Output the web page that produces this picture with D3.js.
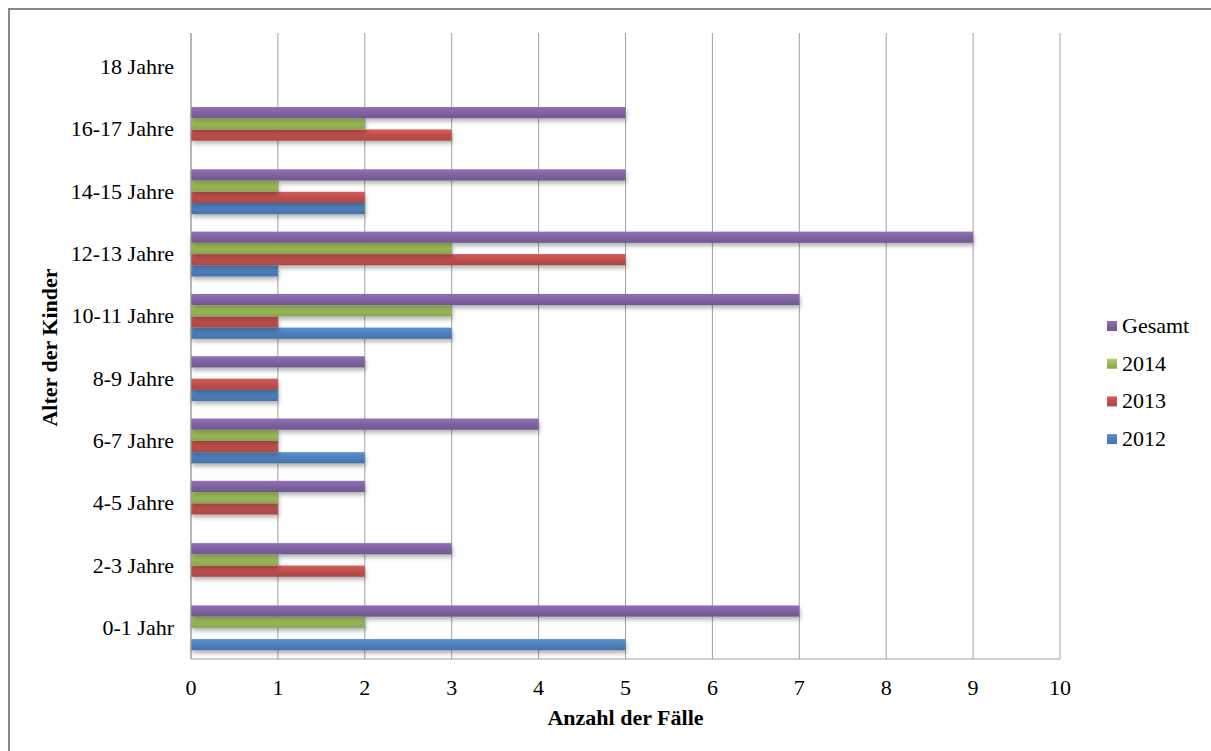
<html>
  <head>
    <meta charset="utf-8">
    <script src="https://d3js.org/d3.v7.min.js"></script>
    <style>
      body { margin: 0; background: #fff; font-family: "Liberation Serif", "Times New Roman", serif; }
      svg text { fill: #000; }
    </style>
  </head>
  <body>
    <div id="chart"></div>
  </body>
  <script>
    // categories bottom -> top
    const categories = ["0-1 Jahr", "2-3 Jahre", "4-5 Jahre", "6-7 Jahre", "8-9 Jahre",
                        "10-11 Jahre", "12-13 Jahre", "14-15 Jahre", "16-17 Jahre", "18 Jahre"]
    const series = ["2012", "2013", "2014", "Gesamt"]
    const v2012   = [5, 0, 0, 2, 1, 3, 1, 2, 0, 0]
    const v2013   = [0, 2, 1, 1, 1, 1, 5, 2, 3, 0]
    const v2014   = [2, 1, 1, 1, 0, 3, 3, 1, 2, 0]
    const vGesamt = [7, 3, 2, 4, 2, 7, 9, 5, 5, 0]
    const xTicks  = [0, 1, 2, 3, 4, 5, 6, 7, 8, 9, 10]

    const values = {"2012": v2012, "2013": v2013, "2014": v2014, "Gesamt": vGesamt}
    const colors = {"2012": "#4F81BD", "2013": "#C0504D", "2014": "#9BBB59", "Gesamt": "#8064A2"}

    const W = 1211, H = 751
    const plot = {left: 191, right: 1060, top: 36, bottom: 659}
    const fs = 22

    const svg = d3.select("#chart").append("svg")
      .attr("width", W).attr("height", H)

    // outer chart border
    svg.append("rect")
      .attr("x", 9).attr("y", 9).attr("width", W + 20).attr("height", H + 20)
      .attr("fill", "none").attr("stroke", "#888").attr("stroke-width", 2)

    const defs = svg.append("defs")
    series.forEach(s => {
      const c = d3.color(colors[s])
      const g = defs.append("linearGradient").attr("id", "g" + s)
        .attr("x1", 0).attr("y1", 0).attr("x2", 0).attr("y2", 1)
      g.append("stop").attr("offset", "0%").attr("stop-color", c.brighter(0.35))
      g.append("stop").attr("offset", "45%").attr("stop-color", c)
      g.append("stop").attr("offset", "100%").attr("stop-color", c.darker(0.35))
    })
    const f = defs.append("filter").attr("id", "shadow")
      .attr("x", "-5%").attr("y", "-50%").attr("width", "110%").attr("height", "250%")
    f.append("feDropShadow").attr("dx", 1).attr("dy", 3).attr("stdDeviation", 2)
      .attr("flood-color", "#000").attr("flood-opacity", 0.3)

    const x = d3.scaleLinear().domain([0, 10]).range([plot.left, plot.right])
    const y = d3.scaleBand().domain(categories).range([plot.bottom, plot.top])
      .paddingInner(0.28).paddingOuter(0.14)
    // series order inside group: Gesamt on top, 2012 at bottom
    const ySub = d3.scaleBand().domain(series.slice().reverse()).range([0, y.bandwidth()])

    // vertical grid lines
    svg.append("g").selectAll("line").data(xTicks).join("line")
      .attr("x1", d => x(d)).attr("x2", d => x(d))
      .attr("y1", plot.top - 3).attr("y2", plot.bottom)
      .attr("stroke", "#a0a0a0").attr("stroke-width", 1)

    // bars
    const groups = svg.append("g").selectAll("g").data(categories).join("g")
      .attr("transform", d => `translate(0,${y(d)})`)
    groups.selectAll("rect")
      .data((c, i) => series.map(s => ({s: s, v: values[s][i]})).filter(d => d.v > 0))
      .join("rect")
        .attr("x", x(0))
        .attr("y", d => ySub(d.s))
        .attr("width", d => x(d.v) - x(0))
        .attr("height", ySub.bandwidth())
        .attr("fill", d => `url(#g${d.s})`)
        .attr("filter", "url(#shadow)")

    // axis lines
    svg.append("line").attr("x1", plot.left).attr("x2", plot.right)
      .attr("y1", plot.bottom).attr("y2", plot.bottom).attr("stroke", "#a0a0a0")
    svg.append("line").attr("x1", plot.left).attr("x2", plot.left)
      .attr("y1", plot.top - 3).attr("y2", plot.bottom).attr("stroke", "#a0a0a0")

    // x tick labels
    svg.append("g").selectAll("text").data(xTicks).join("text")
      .attr("x", d => x(d)).attr("y", 695)
      .attr("text-anchor", "middle").attr("font-size", fs)
      .text(d => d)

    // y tick labels
    svg.append("g").selectAll("text").data(categories).join("text")
      .attr("x", 174).attr("y", d => y(d) + y.bandwidth() / 2 + 7)
      .attr("text-anchor", "end").attr("font-size", fs)
      .text(d => d)

    // axis titles
    svg.append("text").attr("x", (plot.left + plot.right) / 2).attr("y", 725)
      .attr("text-anchor", "middle").attr("font-size", fs).attr("font-weight", "bold")
      .text("Anzahl der Fälle")
    svg.append("text")
      .attr("transform", `translate(57,${(plot.top + plot.bottom) / 2}) rotate(-90)`)
      .attr("text-anchor", "middle").attr("font-size", fs).attr("font-weight", "bold")
      .text("Alter der Kinder")

    // legend
    const legend = svg.append("g").selectAll("g").data(series.slice().reverse()).join("g")
      .attr("transform", (d, i) => `translate(1107,${326 + i * 37.7})`)
    legend.append("rect").attr("x", 0).attr("y", -5).attr("width", 10).attr("height", 10)
      .attr("fill", d => `url(#g${d})`)
    legend.append("text").attr("x", 15).attr("y", 7).attr("font-size", fs)
      .text(d => d)
  </script>
</html>
